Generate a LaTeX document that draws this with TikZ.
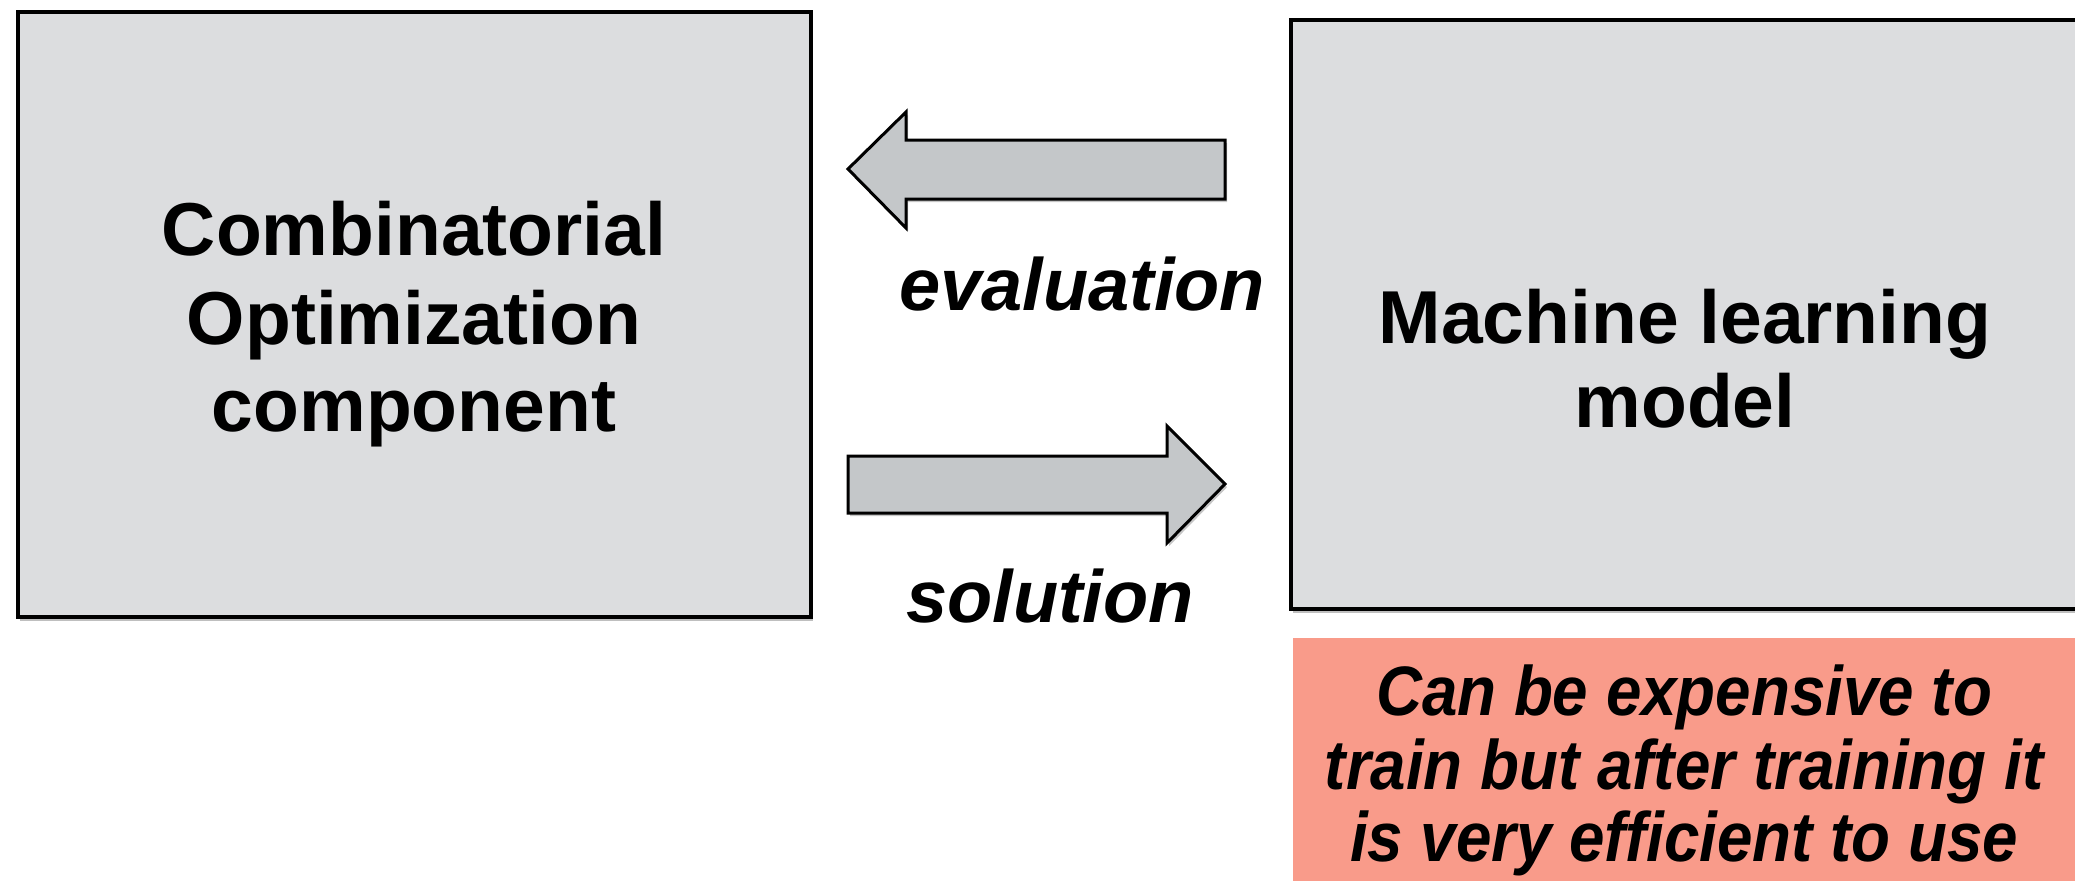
\documentclass[tikz,border=0pt]{standalone}
\usepackage{fontspec}
\setmainfont{Liberation Sans}
\newfontfamily\narrowsans[FakeStretch=0.91]{Liberation Sans}
\usetikzlibrary{fit,shadows}

\definecolor{boxgray}{RGB}{220,221,223}
\definecolor{arrowgray}{RGB}{196,199,201}
\definecolor{notepink}{RGB}{249,155,138}

\tikzset{
  panel/.style={draw=black, line width=1.6pt, fill=boxgray, inner sep=0pt,
    drop shadow={shadow xshift=1.2pt, shadow yshift=-2pt, opacity=0.5}},
  note/.style={fill=notepink, inner sep=0pt},
  blockarrow/.style={draw=black, line width=1.5pt, fill=arrowgray, line join=miter,
    drop shadow={shadow xshift=1pt, shadow yshift=-1.6pt, opacity=0.45}},
  title/.style={font=\fontsize{37.5}{44}\selectfont\bfseries, anchor=base},
  flow/.style={font=\fontsize{37}{44}\selectfont\bfseries\itshape, anchor=base},
  remark/.style={font=\narrowsans\fontsize{35}{36}\selectfont\bfseries\itshape, anchor=base},
}

\begin{document}
\begin{tikzpicture}[x=0.5pt, y=-0.5pt]
  \useasboundingbox (0,0) rectangle (2075,880);
  \clip (0,0) rectangle (2075,880);

  % the two components
  \node[panel, fit={(18,12) (811,617)}] (co) {};
  \node[panel, fit={(1291,20) (2085,609)}] (ml) {};
  \node[note, fit={(1293,638) (2090,890)}] (cost) {};

  % labels of the components
  \node[title] (co1) at (414,255) {Combinatorial};
  \node[title] (co2) at (414,344) {Optimization};
  \node[title] (co3) at (414,431) {component};
  \node[title] (ml1) at (1685,343) {Machine learning};
  \node[title] (ml2) at (1685,427) {model};

  % block arrows between the components
  \draw[blockarrow] (1225,140) -- (906,140) -- (906,112) -- (848,169)
    -- (906,228) -- (906,199) -- (1225,199) -- cycle;
  \draw[blockarrow] (848,456) -- (1167,456) -- (1167,426) -- (1225,484)
    -- (1167,543) -- (1167,513) -- (848,513) -- cycle;

  \node[flow] (eval) at (1082,310) {evaluation};
  \node[flow] (sol) at (1050,622) {solution};

  % remark on the model
  \node[remark] (r1) at (1684,715) {Can be expensive to};
  \node[remark] (r2) at (1684,789) {train but after training it};
  \node[remark] (r3) at (1684,861) {is very efficient to use};
\end{tikzpicture}
\end{document}
